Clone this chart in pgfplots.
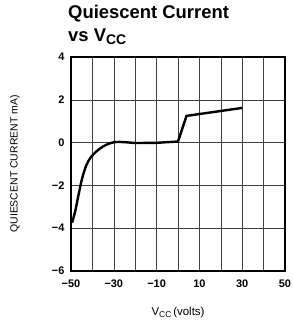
\documentclass[border=0pt]{standalone}
\usepackage{fontspec}
\setmainfont{Liberation Sans}
\usepackage{pgfplots}
\pgfplotsset{compat=1.18}
\begin{document}
\begin{tikzpicture}
\begin{axis}[
  name=ax,
  scale only axis, width=214bp, height=214bp,
  xmin=-50, xmax=50, ymin=-6, ymax=4,
  xtick={-50,-40,...,50},
  xticklabels={−50,,−30,,−10,,10,,30,,50},
  ytick={-6,-4,...,4},
  yticklabels={−6,−4,−2,0,2,4},
  grid=major,
  major grid style={black!75, line width=0.5bp},
  major tick length=0pt,
  axis line style={line width=1.6bp},
  tick label style={font=\bfseries\fontsize{11}{11}\selectfont},
  xticklabel style={yshift=-5bp},
  yticklabel style={xshift=-3bp},
  xlabel={V\raisebox{-2bp}{\fontsize{8.5}{8.5}\selectfont CC}\,(volts)},
  xlabel style={at={(axis description cs:0.5,-0.196)}, anchor=center, font=\fontsize{11.5}{11.5}\selectfont},
  ylabel={QUIESCENT CURRENT mA)},
  ylabel style={at={(axis description cs:-0.262,0.5)}, anchor=center, rotate=0, font=\fontsize{10.5}{10.5}\selectfont},
  title={Quiescent Current\\vs V\raisebox{-3bp}{\fontsize{14}{14}\selectfont CC}},
  title style={at={(axis description cs:-0.014,1)}, anchor=south west, align=left, inner sep=0pt, yshift=6bp, font=\bfseries\fontsize{18.5}{23}\selectfont},
]
\addplot[black, line width=2.4bp, smooth, tension=0.5] coordinates {
  (-49.5,-3.75) (-48,-3.2) (-47,-2.7) (-45,-1.75) (-43,-1.1) (-41,-0.72)
  (-38,-0.4) (-35,-0.18) (-32,-0.04) (-29,0.03) (-25,0.02) (-20,-0.02)
};
\addplot[black, line width=2.4bp] coordinates {
  (-20,-0.02) (-10,-0.01) (0,0.05) (4,1.25) (30,1.62)
};
\end{axis}
\pgfresetboundingbox
\path (ax.south west) ++(-71bp,-56bp) rectangle ++(293bp,327bp);
\end{tikzpicture}
\end{document}
